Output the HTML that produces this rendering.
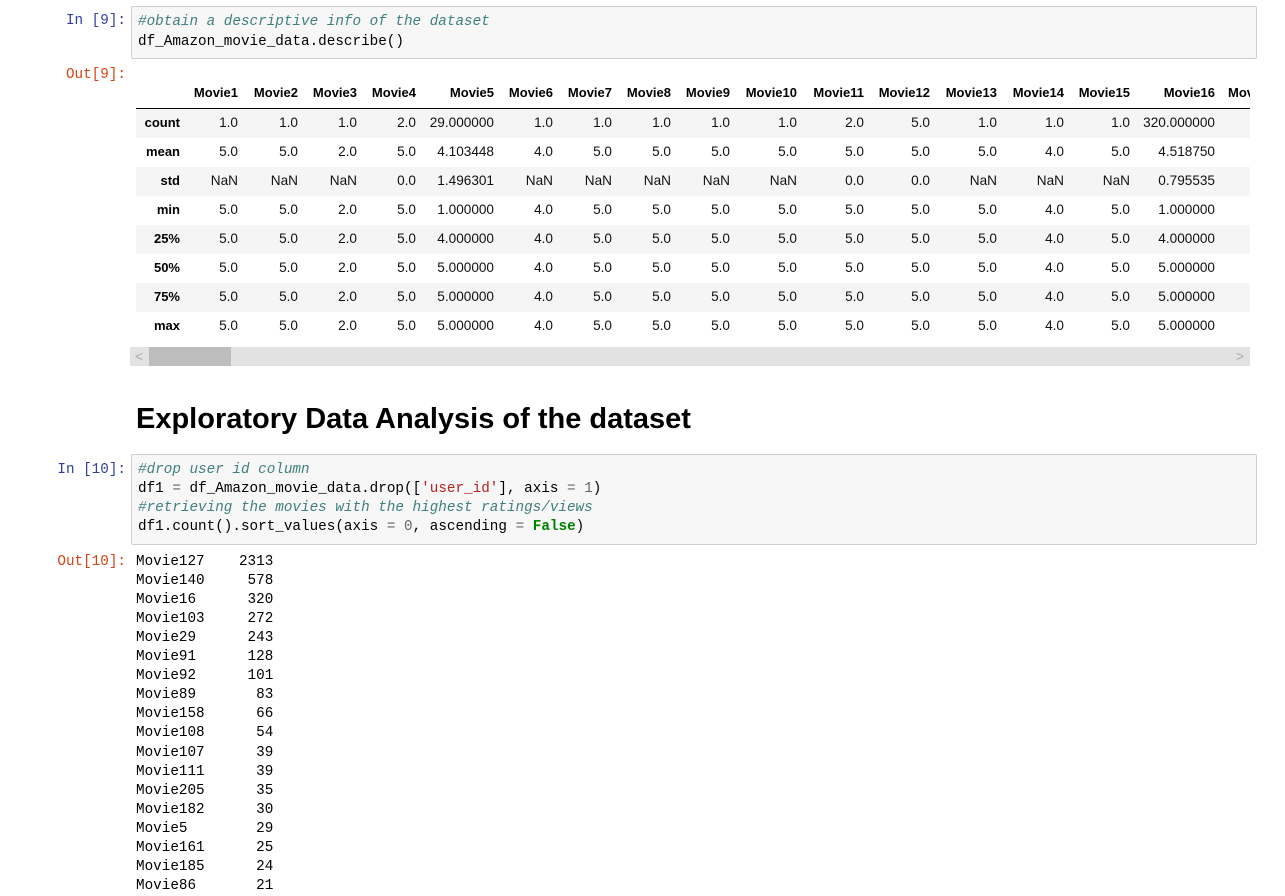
<!DOCTYPE html>
<html><head><meta charset="utf-8">
<style>
body{margin:0;width:1285px;height:896px;background:#fff;position:relative;overflow:hidden;font-family:"Liberation Sans",sans-serif}
.mono{font-family:"Liberation Mono",monospace;font-size:14.3px;white-space:pre}
.prompt{position:absolute;font-family:"Liberation Mono",monospace;font-size:14.3px;text-align:right;width:126px;left:0}
.inp{color:#303f9f}.outp{color:#d84315}
.cell{position:absolute;left:131px;width:1124px;background:#f7f7f7;border:1px solid #cfcfcf;border-radius:2px}
.line{position:absolute;left:6px}
.c{color:#408080;font-style:italic}.s{color:#ba2121}.k{color:#008000;font-weight:bold}.n{color:#666}
.th,.td{position:absolute;text-align:right;white-space:nowrap}
.th{font-weight:bold;font-size:13px}
.td{font-size:13.6px;color:#111}
</style></head><body>
<div class="prompt inp" style="top:13px">In [9]:</div>
<div class="cell" style="top:6px;height:51px">
<div class="line mono" style="top:7px"><span class="c">#obtain a descriptive info of the dataset</span></div>
<div class="line mono" style="top:27px">df_Amazon_movie_data.describe()</div>
</div>
<div class="prompt outp" style="top:67px">Out[9]:</div>
<div id="tbl" style="position:absolute;left:136px;top:80px;width:1114px;height:265px;overflow:hidden"></div>
<div style="position:absolute;left:130px;top:347px;width:1120px;height:19px;background:#e2e2e2">
<div style="position:absolute;left:19px;top:0;width:82px;height:19px;background:#bdbdbd"></div>
<div style="position:absolute;left:5px;top:0;font-size:14px;color:#aaa;line-height:19px">&lt;</div>
<div style="position:absolute;right:6px;top:0;font-size:14px;color:#aaa;line-height:19px">&gt;</div>
</div>
<div style="position:absolute;left:136px;top:403px;font-size:29px;font-weight:bold;color:#000">Exploratory Data Analysis of the dataset</div>
<div class="prompt inp" style="top:462px">In [10]:</div>
<div class="cell" style="top:454px;height:89px">
<div class="line mono" style="top:7px"><span class="c">#drop user id column</span></div>
<div class="line mono" style="top:26px">df1 <span class="n">=</span> df_Amazon_movie_data.drop([<span class="s">'user_id'</span>], axis <span class="n">=</span> <span class="n">1</span>)</div>
<div class="line mono" style="top:45px"><span class="c">#retrieving the movies with the highest ratings/views</span></div>
<div class="line mono" style="top:64px">df1.count().sort_values(axis <span class="n">=</span> <span class="n">0</span>, ascending <span class="n">=</span> <span class="k">False</span>)</div>
</div>
<div class="prompt outp" style="top:554px">Out[10]:</div>
<div id="out10" style="position:absolute;left:136px;top:554px"></div>
<script>
const cols=["Movie1","Movie2","Movie3","Movie4","Movie5","Movie6","Movie7","Movie8","Movie9","Movie10","Movie11","Movie12","Movie13","Movie14","Movie15","Movie16","Movie17"];
const colRight=[102,162,221,280,358,417,476,535,594,661,728,794,861,928,994,1079,1150];
const rowLabels=["count","mean","std","min","25%","50%","75%","max"];
const vals=[
["1.0","1.0","1.0","2.0","29.000000","1.0","1.0","1.0","1.0","1.0","2.0","5.0","1.0","1.0","1.0","320.000000",""],
["5.0","5.0","2.0","5.0","4.103448","4.0","5.0","5.0","5.0","5.0","5.0","5.0","5.0","4.0","5.0","4.518750",""],
["NaN","NaN","NaN","0.0","1.496301","NaN","NaN","NaN","NaN","NaN","0.0","0.0","NaN","NaN","NaN","0.795535",""],
["5.0","5.0","2.0","5.0","1.000000","4.0","5.0","5.0","5.0","5.0","5.0","5.0","5.0","4.0","5.0","1.000000",""],
["5.0","5.0","2.0","5.0","4.000000","4.0","5.0","5.0","5.0","5.0","5.0","5.0","5.0","4.0","5.0","4.000000",""],
["5.0","5.0","2.0","5.0","5.000000","4.0","5.0","5.0","5.0","5.0","5.0","5.0","5.0","4.0","5.0","5.000000",""],
["5.0","5.0","2.0","5.0","5.000000","4.0","5.0","5.0","5.0","5.0","5.0","5.0","5.0","4.0","5.0","5.000000",""],
["5.0","5.0","2.0","5.0","5.000000","4.0","5.0","5.0","5.0","5.0","5.0","5.0","5.0","4.0","5.0","5.000000",""]];
const tbl=document.getElementById('tbl');
cols.forEach((c,i)=>{const d=document.createElement('div');d.className='th';
if(i==16){d.style.left='1092px';}else{d.style.right=(1114-colRight[i])+'px';}
d.style.top='5px';d.textContent=c;


tbl.appendChild(d);});
const hl=document.createElement('div');hl.style.cssText='position:absolute;left:0;top:28px;width:1114px;height:1px;background:#000';


tbl.appendChild(hl);
rowLabels.forEach((r,ri)=>{const top=29+ri*29;
const band=document.createElement('div');band.style.cssText='position:absolute;left:0;width:1114px;height:29px;top:'+top+'px;background:'+(ri%2==0?'#f5f5f5':'#fff');


tbl.appendChild(band);
const l=document.createElement('div');l.className='th';l.style.right=(1114-44)+'px';l.style.top=(top+6)+'px';l.textContent=r;


tbl.appendChild(l);
vals[ri].forEach((v,ci)=>{if(!v)return;const d=document.createElement('div');d.className='td';d.style.right=(1114-colRight[ci])+'px';d.style.top=(top+6)+'px';d.textContent=v;


tbl.appendChild(d);});});
const movies=["Movie127","Movie140","Movie16","Movie103","Movie29","Movie91","Movie92","Movie89","Movie158","Movie108","Movie107","Movie111","Movie205","Movie182","Movie5","Movie161","Movie185","Movie86"];
const counts=[2313,578,320,272,243,128,101,83,66,54,39,39,35,30,29,25,24,21];
const out=document.getElementById('out10');
movies.forEach((m,i)=>{const d=document.createElement('div');d.className='mono';d.style.cssText='position:absolute;left:0;top:'+(i*19.05)+'px';
d.textContent=m.padEnd(11)+String(counts[i]).padStart(5);


out.appendChild(d);});
</script>
</body></html>
